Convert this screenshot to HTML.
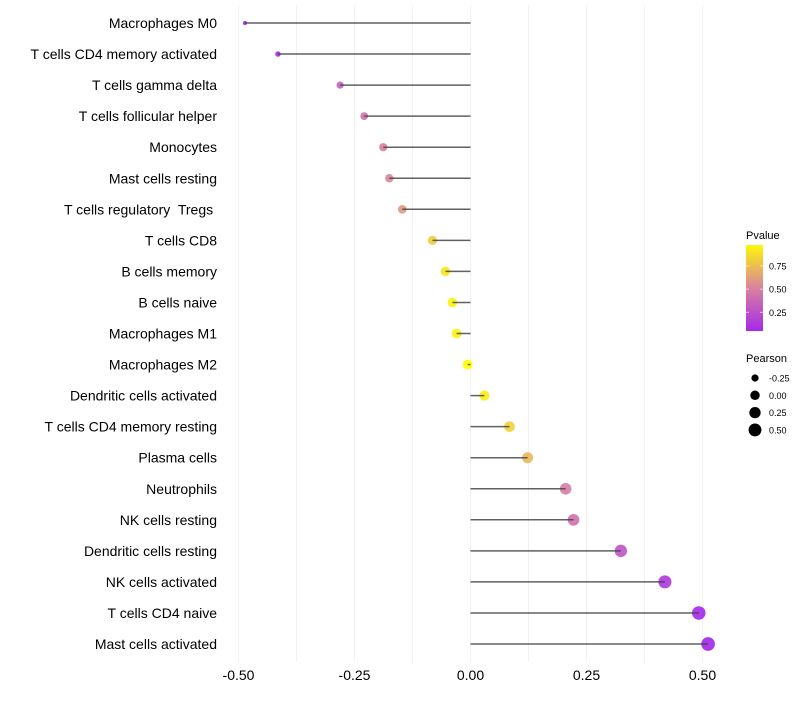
<!DOCTYPE html>
<html><head><meta charset="utf-8"><style>
body{margin:0;background:#fff;font-family:"Liberation Sans",sans-serif}
text{white-space:pre}
</style></head><body>
<svg id="chart" width="800" height="700" xmlns="http://www.w3.org/2000/svg" font-family="Liberation Sans, sans-serif"></svg>
<script>
const categories=["Macrophages M0","T cells CD4 memory activated","T cells gamma delta","T cells follicular helper","Monocytes","Mast cells resting","T cells regulatory  Tregs ","T cells CD8","B cells memory","B cells naive","Macrophages M1","Macrophages M2","Dendritic cells activated","T cells CD4 memory resting","Plasma cells","Neutrophils","NK cells resting","Dendritic cells resting","NK cells activated","T cells CD4 naive","Mast cells activated"];
const pearson=[-0.486,-0.415,-0.281,-0.229,-0.188,-0.175,-0.147,-0.082,-0.054,-0.039,-0.030,-0.006,0.030,0.084,0.123,0.205,0.222,0.324,0.419,0.492,0.512];
const pvalue=[0.02,0.06,0.35,0.42,0.5,0.52,0.6,0.8,0.9,0.95,0.95,1.0,0.93,0.82,0.72,0.48,0.42,0.27,0.12,0.04,0.03];
const xTicks=[-0.5,-0.25,0,0.25,0.5];
const xTickLabels=["-0.50","-0.25","0.00","0.25","0.50"];
const colorTicks=[0.25,0.5,0.75];
const colorTickLabels=["0.25","0.50","0.75"];
const sizeLegend=[-0.25,0,0.25,0.5];
const sizeLegendLabels=["-0.25","0.00","0.25","0.50"];

const svg=document.getElementById('chart');
const NS="http://www.w3.org/2000/svg";
function mk(t,a,p){const e=document.createElementNS(NS,t);for(const k in a)e.setAttribute(k,a[k]);(p||svg).appendChild(e);return e;}
const x=v=>470.5+v*464;
const y=i=>23+i*31.05;
const r=v=>Math.sqrt(Math.max(3.5,25+42*v));
function lerp(a,b,t){return a.map((c,i)=>Math.round(c+(b[i]-c)*t));}
function col(p){const s=[[160,32,240],[215,128,160],[255,255,0]];p=Math.max(0,Math.min(1,p));const c=p<0.5?lerp(s[0],s[1],p/0.5):lerp(s[1],s[2],(p-0.5)/0.5);return `rgb(${c})`;}

const grid=mk('g',{});
for(let v=-0.5;v<=0.5001;v+=0.125){const l=mk('line',{x1:x(v),x2:x(v),y1:5,y2:662,stroke:'#f2f2f2','stroke-width':1},grid);}
xTicks.forEach((v,i)=>{const t=mk('text',{x:x(v),y:680,'font-size':14,'text-anchor':'middle',fill:'#000'});t.textContent=xTickLabels[i];});
categories.forEach((c,i)=>{
 const g=mk('g',{});
 const d=mk('circle',{cx:x(pearson[i]),cy:y(i),r:r(pearson[i]),fill:col(pvalue[i]),'fill-opacity':0.9},g);
 const l=mk('line',{x1:x(0),x2:x(pearson[i]),y1:y(i),y2:y(i),stroke:'#444','stroke-width':1.5,'stroke-opacity':0.85},g);
 const t=mk('text',{x:217,y:y(i)+5,'font-size':14,'text-anchor':'end',fill:'#000'});t.textContent=c;
});
const lg=mk('g',{});
const tt=mk('text',{x:746,y:239,'font-size':11},lg);tt.textContent='Pvalue';
const defs=mk('defs',{});const gr=mk('linearGradient',{id:'pg',x1:0,y1:1,x2:0,y2:0},defs);
for(let k=0;k<=10;k++){const p=0.05+k*0.092;mk('stop',{offset:k/10,'stop-color':col(p)},gr);}
const bar=mk('rect',{x:746,y:245,width:17,height:86,fill:'url(#pg)'},lg);
const py=p=>335.5-p*92.7;
colorTicks.forEach((p,i)=>{mk('line',{x1:746,x2:749,y1:py(p),y2:py(p),stroke:'#fff','stroke-opacity':0.6},lg);mk('line',{x1:760,x2:763,y1:py(p),y2:py(p),stroke:'#fff','stroke-opacity':0.6},lg);const t=mk('text',{x:769,y:py(p)+3.5,'font-size':9},lg);t.textContent=colorTickLabels[i];});
const sg=mk('g',{});
const st=mk('text',{x:746,y:362,'font-size':11},sg);st.textContent='Pearson';
sizeLegend.forEach((v,i)=>{const cy=378+i*17.3;const c=mk('circle',{cx:755,cy:cy,r:r(v)*0.95,fill:'#000'},sg);const t=mk('text',{x:769,y:cy+3.5,'font-size':9},sg);t.textContent=sizeLegendLabels[i];});
</script>
</body></html>
